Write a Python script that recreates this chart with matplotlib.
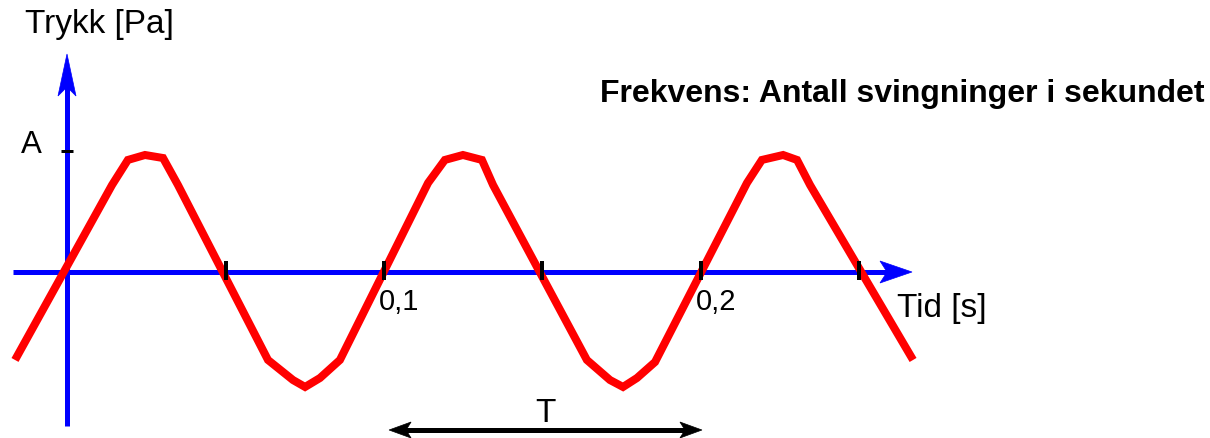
import matplotlib
matplotlib.use('Agg')
import matplotlib.pyplot as plt
from matplotlib.patches import Polygon

plt.rcParams['font.family'] = ['Liberation Sans', 'DejaVu Sans']

# ---- data (time in s, pressure in units of A) ----
time_s = [-0.0164, 0.0142, 0.0192, 0.0246, 0.0303, 0.0350, 0.0634, 0.0713,
          0.0751, 0.0798, 0.0861, 0.1139, 0.1192, 0.1249, 0.1309, 0.1344,
          0.1640, 0.1713, 0.1754, 0.1798, 0.1855, 0.2145, 0.2192, 0.2259,
          0.2303, 0.2344, 0.2669]
pressure = [-0.727, 0.719, 0.926, 0.967, 0.942, 0.719, -0.727, -0.893,
            -0.950, -0.876, -0.727, 0.736, 0.926, 0.967, 0.926, 0.719,
            -0.727, -0.893, -0.950, -0.876, -0.744, 0.736, 0.926, 0.967,
            0.926, 0.719, -0.727]
x_ticks = [0.05, 0.1, 0.15, 0.2, 0.25]
x_tick_labels = ['', '0,1', '', '0,2', '']
amplitude = 1.0
period_start, period_end = 0.1016, 0.2003
y_label = 'Trykk [Pa]'
x_label = 'Tid [s]'
title = 'Frekvens: Antall svingninger i sekundet'

# ---- figure ----
W, H = 1210, 438
fig = plt.figure(figsize=(W / 100, H / 100), dpi=100)
ax = fig.add_axes([0, 0, 1, 1])
ax.set_axis_off()

# pixel scale of the axes (x0 at px 67, y0 at px 272)
PX = 1 / 3170.0   # seconds per pixel
PY = 1 / 121.0    # A-units per pixel
ax.set_xlim(-67 * PX, (W - 67) * PX)
ax.set_ylim(-(H - 272) * PY, 272 * PY)


def X(px):
    return (px - 67) * PX


def Y(py):
    return (272 - py) * PY


def head(tx, ty, d, L, Wd, notch, color):
    # d: 'r', 'l', 'u'
    if d == 'r':
        pts = [(0, 0), (-L, Wd), (-L + notch, 0), (-L, -Wd)]
    elif d == 'l':
        pts = [(0, 0), (L, Wd), (L - notch, 0), (L, -Wd)]
    else:
        pts = [(0, 0), (Wd, -L), (0, -L + notch), (-Wd, -L)]
    poly = Polygon([(tx + a * PX, ty + b * PY) for a, b in pts],
                   closed=True, facecolor=color, edgecolor=color, lw=0.5,
                   zorder=2)
    ax.add_patch(poly)


blue = '#0000ff'
lw_axis = 5 * 0.72

# axes lines
ax.plot([X(13), X(900)], [0, 0], color=blue, lw=lw_axis,
        solid_capstyle='butt', zorder=1)
head(X(912), 0, 'r', 32, 11, 7, blue)
ax.plot([0, 0], [Y(426), Y(80)], color=blue, lw=lw_axis,
        solid_capstyle='butt', zorder=1)
head(0, Y(54), 'u', 42, 9, 9, blue)

# sine curve
ax.plot(time_s, pressure, color='#ff0000', lw=8 * 0.72,
        solid_joinstyle='miter', solid_capstyle='butt', zorder=3)

# ticks on time axis
for t in x_ticks:
    ax.plot([t, t], [Y(280), Y(261)], color='black', lw=4 * 0.72,
            solid_capstyle='butt', zorder=4)
for t, lab in zip(x_ticks, x_tick_labels):
    if lab:
        ax.text(t - 5 * PX, Y(310), lab, fontsize=21, ha='left',
                va='baseline', color='black', zorder=5)

# amplitude tick
ax.plot([X(61), X(73)], [amplitude, amplitude], color='black', lw=3 * 0.72,
        solid_capstyle='butt', zorder=4)
ax.text(X(21), Y(153), 'A', fontsize=22.5, ha='left', va='baseline')

# labels
ax.text(X(25), Y(33), y_label, fontsize=24, ha='left', va='baseline')
ax.text(X(897), Y(317), x_label, fontsize=24, ha='left', va='baseline')
ax.text(X(600), Y(102), title, fontsize=23, fontweight='bold', ha='left',
        va='baseline')

# period arrow
ya = Y(430)
ax.plot([period_start + 15 * PX, period_end - 15 * PX], [ya, ya],
        color='black', lw=5 * 0.72, solid_capstyle='butt', zorder=1)
head(period_start, ya, 'l', 22, 8, 5, 'black')
head(period_end, ya, 'r', 22, 8, 5, 'black')
ax.text((period_start + period_end) / 2, Y(422), 'T', fontsize=24,
        ha='center', va='baseline')

fig.savefig('out.png', dpi=100)
